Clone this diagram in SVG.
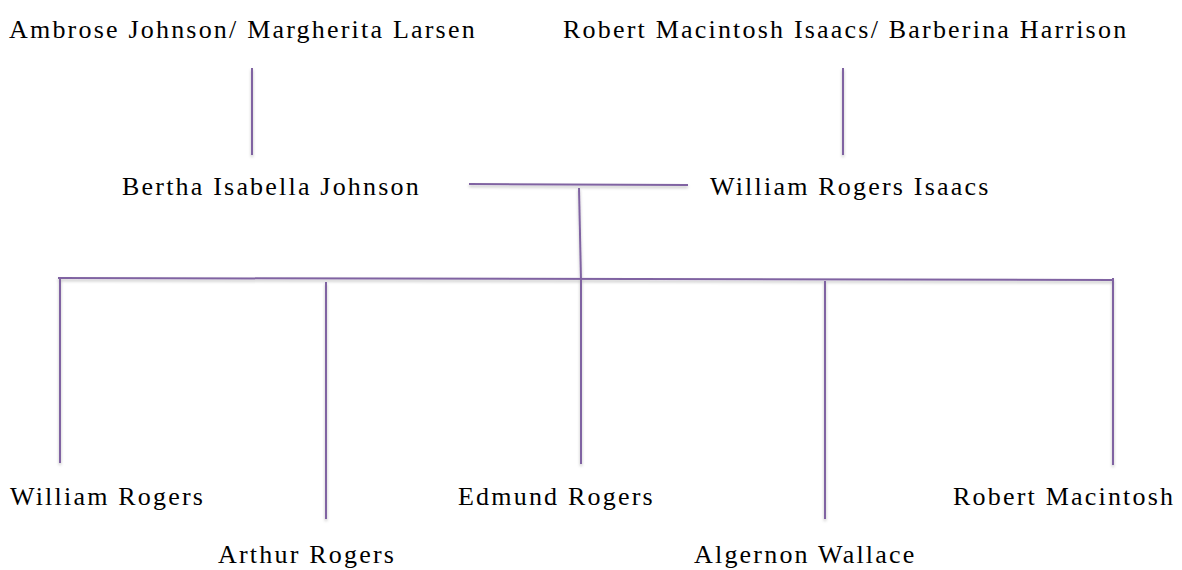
<svg xmlns="http://www.w3.org/2000/svg" width="1182" height="570" viewBox="0 0 1182 570">
<style>
text{font-family:"Liberation Serif","Times New Roman",serif;font-size:26px;letter-spacing:2.2px;fill:#000}
.c line{stroke:#8064a2;stroke-width:2;fill:none}
</style>
<defs>
<filter id="sh" x="-10%" y="-10%" width="120%" height="140%">
<feDropShadow dx="0" dy="2" stdDeviation="1.5" flood-color="#000" flood-opacity="0.25"/>
</filter>
</defs>
<rect width="1182" height="570" fill="#fff"/>
<g class="c" id="connectors" filter="url(#sh)">
<line x1="252" y1="68" x2="252" y2="155"/>
<line x1="843" y1="68" x2="843" y2="155"/>
<line x1="469" y1="184" x2="688" y2="185"/>
<line x1="579" y1="188" x2="581" y2="280"/>
<line x1="58" y1="278" x2="1114" y2="280"/>
<line x1="60" y1="279" x2="60" y2="463"/>
<line x1="326" y1="282" x2="326" y2="519"/>
<line x1="581" y1="280" x2="581" y2="464"/>
<line x1="825" y1="281" x2="825" y2="519"/>
<line x1="1113" y1="278" x2="1113" y2="465"/>
</g>
<g id="n-ambrose"><text x="9" y="38">Ambrose Johnson/ Margherita Larsen</text></g>
<g id="n-robert-sr"><text x="563" y="38">Robert Macintosh Isaacs/ Barberina Harrison</text></g>
<g id="n-bertha"><text x="122" y="195">Bertha Isabella Johnson</text></g>
<g id="n-william-sr"><text x="710" y="195">William Rogers Isaacs</text></g>
<g id="n-william"><text x="10" y="505">William Rogers</text></g>
<g id="n-arthur"><text x="218" y="563">Arthur Rogers</text></g>
<g id="n-edmund"><text x="458" y="505">Edmund Rogers</text></g>
<g id="n-algernon"><text x="694" y="563">Algernon Wallace</text></g>
<g id="n-robert"><text x="953" y="505">Robert Macintosh</text></g>
</svg>
